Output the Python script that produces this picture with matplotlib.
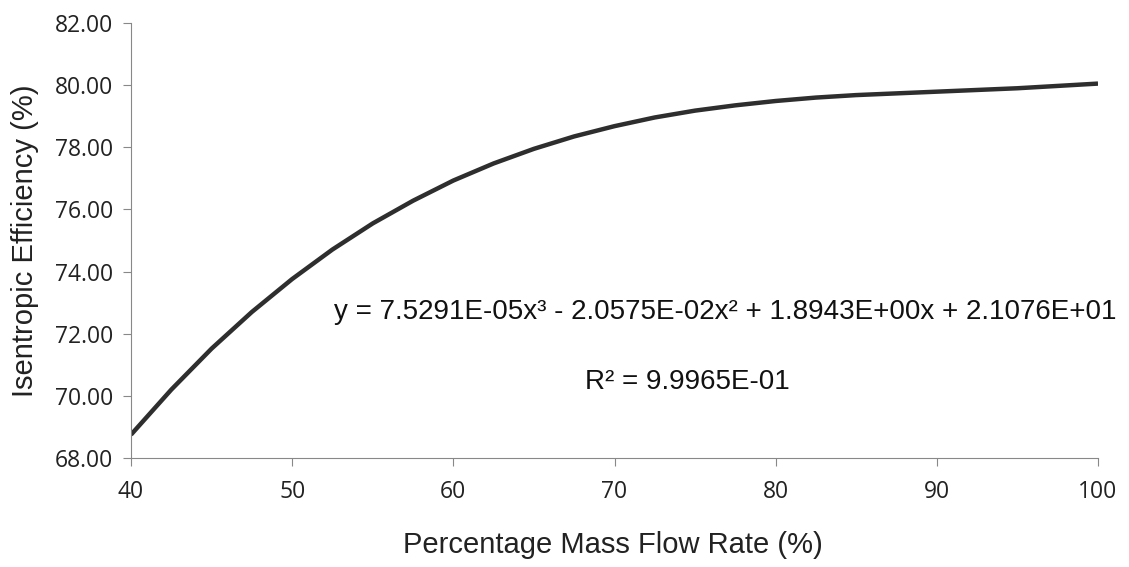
import matplotlib
matplotlib.use("Agg")
import matplotlib.pyplot as plt

# readings from the chart
mass_flow = [40, 42.5, 45, 47.5, 50, 52.5, 55, 57.5, 60, 62.5, 65, 67.5, 70,
             72.5, 75, 77.5, 80, 82.5, 85, 90, 95, 100]
efficiency = [68.75, 70.20, 71.52, 72.70, 73.76, 74.71, 75.55, 76.28, 76.93,
              77.48, 77.95, 78.35, 78.68, 78.96, 79.18, 79.35, 79.49, 79.60,
              79.68, 79.79, 79.90, 80.05]

x_ticks = [40, 50, 60, 70, 80, 90, 100]
y_ticks = [68, 70, 72, 74, 76, 78, 80, 82]

eq_text = "y = 7.5291E-05x³ - 2.0575E-02x² + 1.8943E+00x + 2.1076E+01"
r2_text = "R² = 9.9965E-01"

W, H = 1129, 567
fig = plt.figure(figsize=(W / 100, H / 100), dpi=100)
ax = fig.add_axes([131 / W, 1 - 458 / H, (1098 - 131) / W, (458 - 23) / H])

ax.plot(mass_flow, efficiency, color="#2e2e2e", linewidth=3.2,
        solid_capstyle="butt", solid_joinstyle="round")

ax.set_xlim(40, 100)
ax.set_ylim(68, 82)
ax.set_xticks(x_ticks)
ax.set_yticks(y_ticks)
ax.set_xticklabels([str(v) for v in x_ticks], fontfamily="Open Sans",
                   fontsize=16.5, color="#222222")
ax.set_yticklabels(["%.2f" % v for v in y_ticks], fontfamily="Open Sans",
                   fontsize=16.5, color="#222222")

for s in ("top", "right"):
    ax.spines[s].set_visible(False)
for s in ("left", "bottom"):
    ax.spines[s].set_color("#888888")
    ax.spines[s].set_linewidth(0.8)
ax.tick_params(axis="y", length=6, width=0.8, color="#888888", pad=7)
ax.tick_params(axis="x", length=6, width=0.8, color="#888888", pad=10)

fig.text(25 / W, 1 - 241 / H, "Isentropic Efficiency (%)", rotation=90,
         ha="center", va="center", fontfamily="Liberation Sans",
         fontsize=21, color="#222222")
fig.text(613 / W, 1 - 545 / H, "Percentage Mass Flow Rate (%)",
         ha="center", va="center", fontfamily="Liberation Sans",
         fontsize=21, color="#222222")

fig.text(725 / W, 1 - 312 / H, eq_text, ha="center", va="center",
         fontfamily="Liberation Sans", fontsize=20, color="#111111")
fig.text(687 / W, 1 - 382 / H, r2_text, ha="center", va="center",
         fontfamily="Liberation Sans", fontsize=20, color="#111111")

fig.savefig("out.png", dpi=100, facecolor="white")
